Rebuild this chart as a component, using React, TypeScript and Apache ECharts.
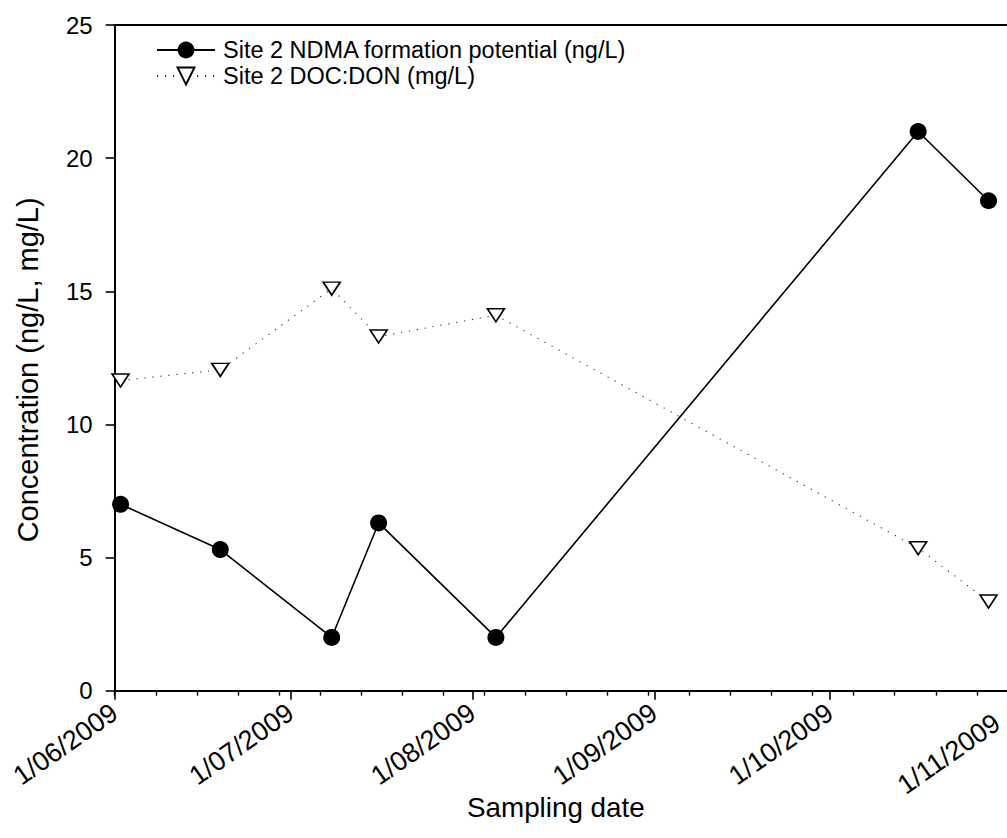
import React, { useEffect, useRef } from "react";
import * as echarts from "echarts";

// ---- data ----
const sampleDates = ["2009-06-02", "2009-06-19", "2009-07-08", "2009-07-16", "2009-08-05", "2009-10-16", "2009-10-28"];
const ndmaFP = [7.0, 5.3, 2.0, 6.3, 2.0, 21.0, 18.4];
const docDon = [11.65, 12.05, 15.1, 13.3, 14.1, 5.35, 3.35];

const monthTickDates = ["2009-06-01", "2009-07-01", "2009-08-01", "2009-09-01", "2009-10-01", "2009-11-01"];
const monthTickLabels = ["1/06/2009", "1/07/2009", "1/08/2009", "1/09/2009", "1/10/2009", "1/11/2009"];

const seriesNames = ["Site 2 NDMA formation potential (ng/L)", "Site 2 DOC:DON (mg/L)"];
const xTitle = "Sampling date";
const yTitle = "Concentration (ng/L, mg/L)";

const DAY = 86400000;
const toMs = (s: string) => {
  const [y, m, d] = s.split("-").map(Number);
  return Date.UTC(y, m - 1, d);
};

const FONT = "'Liberation Sans', Arial, sans-serif";
const XLABEL_SIZE = 27;

export default function App() {
  const ref = useRef<HTMLDivElement>(null);

  useEffect(() => {
    if (!ref.current) return;
    const chart = echarts.init(ref.current, undefined, { renderer: "svg" });

    const xMin = toMs(monthTickDates[0]);
    const xMax = toMs(monthTickDates[monthTickDates.length - 1]);
    const majorTicks = monthTickDates.map(toMs);
    const weekTicks: number[] = [];
    for (let t = xMin; t <= xMax; t += 7 * DAY) weekTicks.push(t);

    const ndmaData = sampleDates.map((d, i) => [toMs(d), ndmaFP[i]]);
    const docData = sampleDates.map((d, i) => [toMs(d), docDon[i]]);

    chart.setOption({
      animation: false,
      backgroundColor: "#fff",
      textStyle: { fontFamily: FONT },
      grid: { left: 114.7, right: 10, top: 25, bottom: 147.3, containLabel: false, outerBoundsMode: "none" },
      legend: {
        orient: "vertical",
        left: 151,
        top: 33,
        itemWidth: 58,
        itemHeight: 21,
        itemGap: 2,
        selectedMode: false,
        textStyle: { fontFamily: FONT, fontSize: 23.5, color: "#000", padding: [0, 0, 0, 3] },
        data: seriesNames,
      },
      xAxis: [
        {
          type: "value",
          min: xMin,
          max: xMax,
          position: "bottom",
          name: xTitle,
          nameLocation: "middle",
          nameGap: 103,
          nameMoveOverlap: false,
          nameTextStyle: { fontFamily: FONT, fontSize: 27.8, color: "#000", padding: [0, 15, 0, 0] },
          axisLine: { show: true, lineStyle: { color: "#000", width: 2 } },
          axisTick: { show: true, inside: false, length: 9, customValues: majorTicks, lineStyle: { color: "#000", width: 1.6 } },
          axisLabel: {
            show: true,
            customValues: majorTicks,
            rotate: 35,
            margin: 19,
            fontFamily: FONT,
            fontSize: XLABEL_SIZE,
            color: "#000",
            rich: {
              last: { fontFamily: FONT, fontSize: XLABEL_SIZE, color: "#000", padding: [0, 18, 0, 0] },
            },
            formatter: (v: number) => {
              const i = majorTicks.indexOf(v);
              if (i < 0) return "";
              return i === monthTickLabels.length - 1 ? `{last|${monthTickLabels[i]}}` : monthTickLabels[i];
            },
          },
          splitLine: { show: false },
        },
        {
          type: "value",
          min: xMin,
          max: xMax,
          position: "bottom",
          axisLine: { show: false },
          axisTick: { show: true, inside: false, length: 5, customValues: weekTicks, lineStyle: { color: "#000", width: 1.4 } },
          axisLabel: { show: false },
          splitLine: { show: false },
        },
        {
          type: "value",
          min: xMin,
          max: xMax,
          position: "top",
          axisLine: { show: true, lineStyle: { color: "#000", width: 2 } },
          axisTick: { show: false },
          axisLabel: { show: false },
          splitLine: { show: false },
        },
      ],
      yAxis: {
        type: "value",
        min: 0,
        max: 25,
        interval: 5,
        name: yTitle,
        nameLocation: "middle",
        nameRotate: 90,
        nameGap: 72,
        nameMoveOverlap: false,
        nameTextStyle: { fontFamily: FONT, fontSize: 29, color: "#000", padding: [0, 24, 0, 0] },
        axisLine: { show: true, lineStyle: { color: "#000", width: 2 } },
        axisTick: { show: true, inside: false, length: 9, lineStyle: { color: "#000", width: 1.6 } },
        axisLabel: { show: true, margin: 22, fontFamily: FONT, fontSize: 24, color: "#000" },
        splitLine: { show: false },
      },
      series: [
        {
          name: seriesNames[0],
          type: "line",
          xAxisIndex: 0,
          data: ndmaData,
          symbol: "circle",
          symbolSize: 17,
          showAllSymbol: true,
          itemStyle: { color: "#000" },
          lineStyle: { color: "#000", width: 1.6, type: "solid" },
          z: 3,
        },
        {
          name: seriesNames[1],
          type: "line",
          xAxisIndex: 0,
          data: docData,
          symbol: "triangle",
          symbolSize: [17, 13],
          symbolRotate: 180,
          showAllSymbol: true,
          itemStyle: { color: "#fff", borderColor: "#000", borderWidth: 1.6 },
          lineStyle: { color: "#333", width: 1.1, type: [1.2, 6.8] },
          z: 2,
        },
      ],
    });

    return () => chart.dispose();
  }, []);

  return (
    <div style={{ position: "fixed", left: 0, top: 0, width: 1007, height: 838, overflow: "hidden", background: "#fff" }}>
      <div ref={ref} style={{ width: 1022, height: 838 }} />
    </div>
  );
}
